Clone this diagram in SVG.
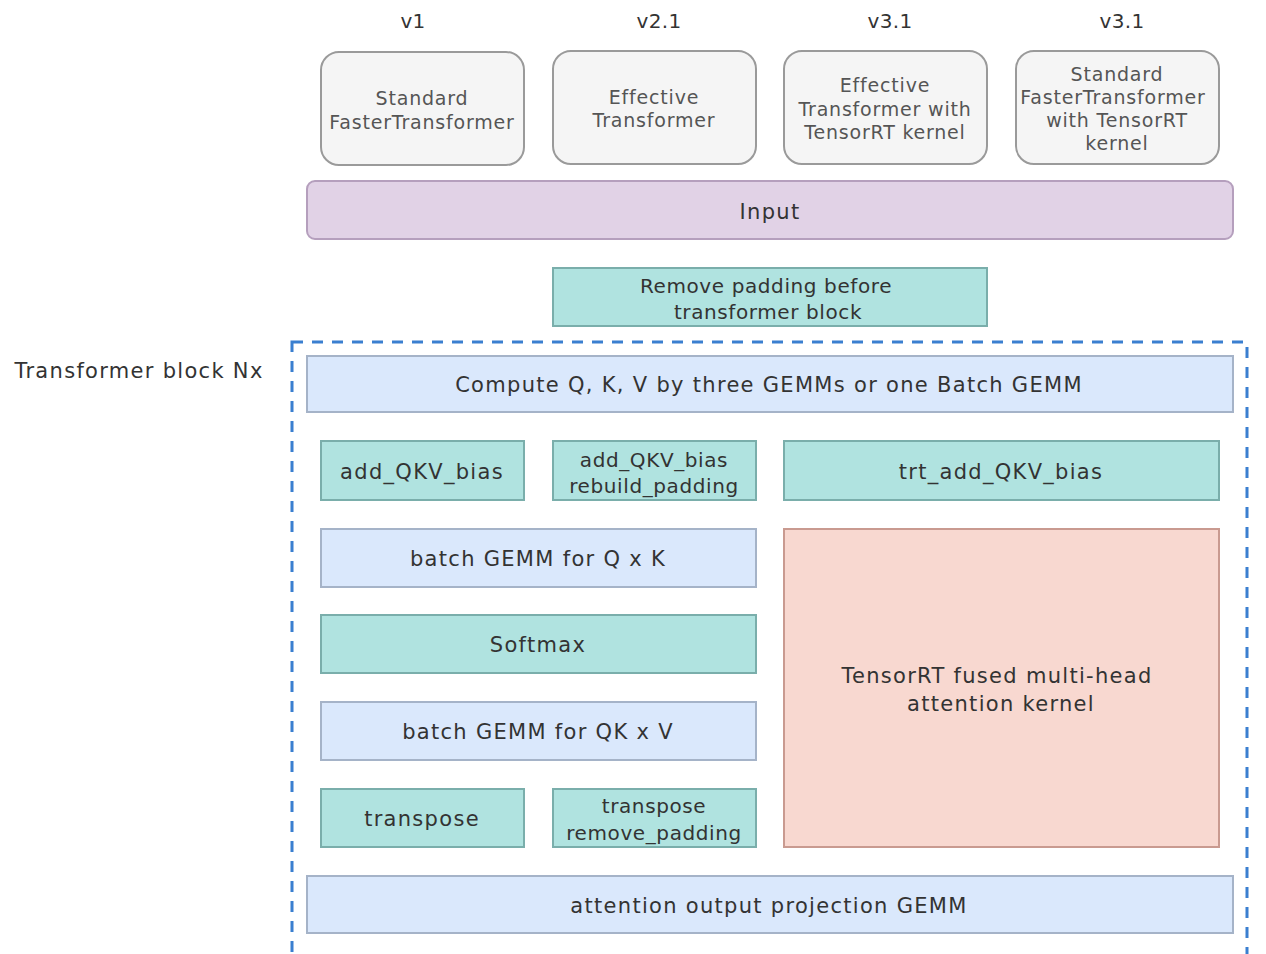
<svg xmlns="http://www.w3.org/2000/svg" width="1266" height="954" viewBox="0 0 1266 954">
<style>
text{font-family:"DejaVu Sans","Liberation Sans",sans-serif;fill:#333;text-anchor:middle;font-size:21px;letter-spacing:1.3px}
.ver{font-size:20px;fill:#333;letter-spacing:0.3px}
.sm{font-size:20px;letter-spacing:0.6px}
.top rect{fill:#f5f5f5;stroke:#9a9a9a;stroke-width:2}
.top text{font-size:19px;fill:#555;letter-spacing:0.8px}
.teal{fill:#b0e3e0;stroke:#7aaeab;stroke-width:2}
.blue{fill:#dae8fc;stroke:#a5b3c8;stroke-width:2}
.red{fill:#f8d8d0;stroke:#c99a90;stroke-width:2}
.purple{fill:#e1d2e6;stroke:#b59fbd;stroke-width:2}
</style>
<rect width="1266" height="954" fill="#fff"/>
<g id="versions">
<text class="ver" x="413" y="28">v1</text>
<text class="ver" x="659" y="28">v2.1</text>
<text class="ver" x="890" y="28">v3.1</text>
<text class="ver" x="1122" y="28">v3.1</text>
</g>
<g id="v1" class="top"><rect x="321" y="52" width="203" height="113" rx="18"/><text x="422" y="105">Standard</text><text x="422" y="129">FasterTransformer</text></g>
<g id="v21" class="top"><rect x="553" y="51" width="203" height="113" rx="18"/><text x="654" y="104">Effective</text><text x="654" y="127">Transformer</text></g>
<g id="v31a" class="top"><rect x="784" y="51" width="203" height="113" rx="18"/><text x="885" y="92">Effective</text><text x="885" y="116">Transformer with</text><text x="885" y="139">TensorRT kernel</text></g>
<g id="v31b" class="top"><rect x="1016" y="51" width="203" height="113" rx="18"/><text x="1117" y="81">Standard</text><text x="1113" y="104">FasterTransformer</text><text x="1117" y="127">with TensorRT</text><text x="1117" y="150">kernel</text></g>
<g id="input"><rect class="purple" x="307" y="181" width="926" height="58" rx="8"/><text x="770" y="219">Input</text></g>
<g id="removepad"><rect class="teal" x="553" y="268" width="434" height="58"/><text class="sm" x="766" y="293">Remove padding before</text><text class="sm" x="768" y="319">transformer block</text></g>
<g id="block">
<rect x="292" y="342" width="955" height="640" fill="none" stroke="#3a7fd0" stroke-width="3" stroke-dasharray="11 9"/>
<text x="139" y="378">Transformer block Nx</text>
</g>
<g id="qkv"><rect class="blue" x="307" y="356" width="926" height="56"/><text x="769" y="392">Compute Q, K, V by three GEMMs or one Batch GEMM</text></g>
<g id="bias1"><rect class="teal" x="321" y="441" width="203" height="59"/><text x="422" y="479">add_QKV_bias</text></g>
<g id="bias2"><rect class="teal" x="553" y="441" width="203" height="59"/><text class="sm" x="654" y="467">add_QKV_bias</text><text class="sm" x="654" y="493">rebuild_padding</text></g>
<g id="bias3"><rect class="teal" x="784" y="441" width="435" height="59"/><text x="1001" y="479">trt_add_QKV_bias</text></g>
<g id="gemmqk"><rect class="blue" x="321" y="529" width="435" height="58"/><text x="538" y="566">batch GEMM for Q x K</text></g>
<g id="softmax"><rect class="teal" x="321" y="615" width="435" height="58"/><text x="538" y="652">Softmax</text></g>
<g id="gemmqkv"><rect class="blue" x="321" y="702" width="435" height="58"/><text x="538" y="739">batch GEMM for QK x V</text></g>
<g id="transpose1"><rect class="teal" x="321" y="789" width="203" height="58"/><text x="422" y="826">transpose</text></g>
<g id="transpose2"><rect class="teal" x="553" y="789" width="203" height="58"/><text class="sm" x="654" y="813">transpose</text><text class="sm" x="654" y="840">remove_padding</text></g>
<g id="fused"><rect class="red" x="784" y="529" width="435" height="318"/><text x="997" y="683">TensorRT fused multi-head</text><text x="1001" y="711">attention kernel</text></g>
<g id="proj"><rect class="blue" x="307" y="876" width="926" height="57"/><text x="769" y="913">attention output projection GEMM</text></g>
<g id="connectors"></g>
</svg>
